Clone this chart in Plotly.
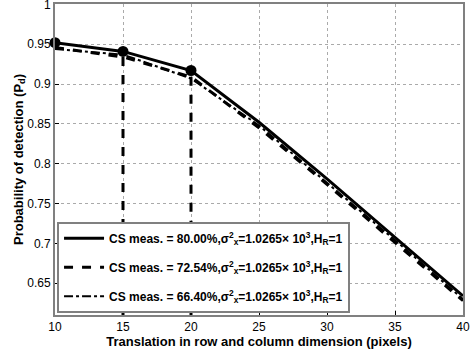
import plotly.graph_objects as go

x_vals = [10, 15, 20, 25, 30, 35, 40]
pd_80 = [0.952, 0.941, 0.917, 0.852, 0.781, 0.708, 0.634]
pd_7254 = [0.946, 0.934, 0.909, 0.845, 0.774, 0.701, 0.628]
pd_6640 = [0.944, 0.937, 0.907, 0.848, 0.776, 0.704, 0.630]
marker_x = [10, 15, 20]
drop_x = [15, 20]
y_min = 0.61
y_max = 1.0005
y_ticks = [0.65, 0.7, 0.75, 0.8, 0.85, 0.9, 0.95, 1.0]
y_ticktext = ["0.65", "0.7", "0.75", "0.8", "0.85", "0.9", "0.95", "1"]
x_ticks = [10, 15, 20, 25, 30, 35, 40]

suffix = ",σ<sup>2</sup><sub>x</sub>=1.0265× 10<sup>3</sup>,H<sub>R</sub>=1"
labels = ["CS meas. = 80.00%" + suffix,
          "CS meas. = 72.54%" + suffix,
          "CS meas. = 66.40%" + suffix]

fig = go.Figure()

for xv in drop_x:
    i = x_vals.index(xv)
    fig.add_trace(go.Scatter(x=[xv, xv], y=[pd_7254[i], y_min], mode="lines",
                             line=dict(color="black", width=3, dash="dash"),
                             showlegend=False, hoverinfo="skip"))

fig.add_trace(go.Scatter(x=x_vals, y=pd_80, mode="lines", name=labels[0],
                         line=dict(color="black", width=3), legendgroup="a"))
fig.add_trace(go.Scatter(x=x_vals, y=pd_7254, mode="lines", name=labels[1],
                         line=dict(color="black", width=3, dash="dash"), legendgroup="b"))
fig.add_trace(go.Scatter(x=x_vals, y=pd_6640, mode="lines", name=labels[2],
                         line=dict(color="black", width=2, dash="dashdot"), legendgroup="c"))

mk_y = [pd_80[x_vals.index(v)] for v in marker_x]
fig.add_trace(go.Scatter(x=marker_x, y=mk_y, mode="markers",
                         marker=dict(color="black", size=11), showlegend=False,
                         hoverinfo="skip", cliponaxis=False))

axis_common = dict(showline=True, linecolor="#808080", linewidth=2, mirror=True,
                   ticks="inside", ticklen=4, tickcolor="black",
                   showgrid=True, gridcolor="#aaaaaa", griddash="dot", gridwidth=1,
                   zeroline=False, automargin=False, ticklabeloverflow="allow",
                   tickfont=dict(family="Liberation Sans", size=12, color="black"))

fig.update_layout(
    width=470, height=359,
    margin=dict(l=55, r=7, t=4, b=44),
    paper_bgcolor="white", plot_bgcolor="white",
    showlegend=True,
    legend=dict(x=0.005, y=0.30, xanchor="left", yanchor="top",
                bgcolor="white", bordercolor="#808080", borderwidth=2,
                font=dict(family="Liberation Sans", size=12, color="black", weight="bold"),
                traceorder="grouped", tracegroupgap=10, itemwidth=40),
    xaxis=dict(range=[10, 40], tickvals=x_ticks,
               title=dict(text="<b>Translation in row and column dimension (pixels)</b>",
                          font=dict(family="Liberation Sans", size=13, color="black"),
                          standoff=0),
               **axis_common),
    yaxis=dict(range=[y_min, y_max], tickvals=y_ticks, ticktext=y_ticktext,
               title=dict(text="<b>Probability of detection (P<sub>d</sub>)</b>",
                          font=dict(family="Liberation Sans", size=13, color="black"),
                          standoff=0),
               **axis_common),
)

fig.write_html("out.html", config={"displayModeBar": False},
               post_script="document.body.style.margin='0px';")
